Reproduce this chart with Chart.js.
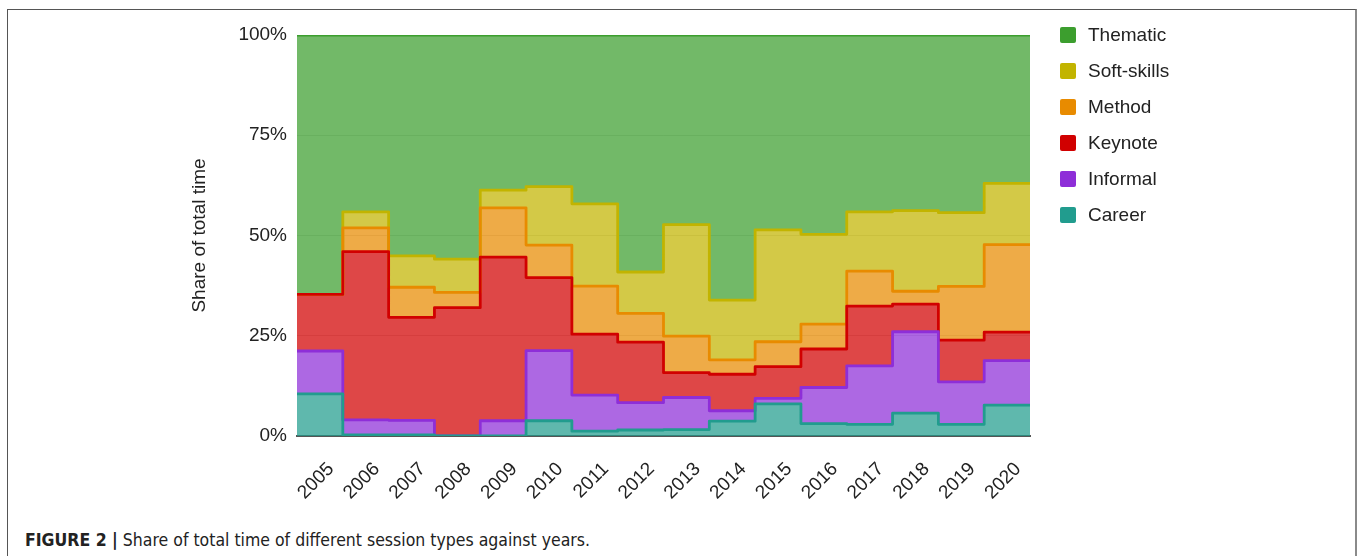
<!DOCTYPE html>
<html>
<head>
<meta charset="utf-8">
<script src="https://cdn.jsdelivr.net/npm/chart.js@4.4.1/dist/chart.umd.min.js"></script>
<style>
  body { margin: 0; background: #fff; }
  .figure {
    position: absolute; left: 7px; top: 9px; width: 1347px; height: 560px;
    border: 1px solid #555; border-bottom: none; border-right: 2px solid #8a8a8a;
  }
  #chart { position: absolute; left: 0; top: 0; }
  .caption {
    position: absolute; left: 25px; top: 530px;
    font-family: "Liberation Sans Narrow", "DejaVu Sans Condensed", sans-serif;
    font-stretch: condensed; font-size: 17.5px; color: #222;
  }
  .caption b { font-weight: bold; }
</style>
</head>
<body>
<div class="figure"></div>
<canvas id="chart" width="1358" height="500"></canvas>
<div class="caption"><b>FIGURE 2 |</b> Share of total time of different session types against years.</div>
<script>
const years = [2005, 2006, 2007, 2008, 2009, 2010, 2011, 2012, 2013, 2014, 2015, 2016, 2017, 2018, 2019, 2020];

// shares in % of total time, per year
const career = [10.5, 0.3, 0.3, 0, 0, 3.8, 1.2, 1.5, 1.6, 3.7, 8.0, 3.1, 2.9, 5.7, 2.9, 7.7];
const informal = [10.7, 3.7, 3.6, 0, 3.8, 17.5, 9.0, 6.8, 8.0, 2.6, 1.4, 9.0, 14.6, 20.3, 10.6, 11.1];
const keynote = [14.1, 42.0, 25.7, 32.0, 40.8, 18.2, 15.2, 15.1, 6.2, 9.1, 7.9, 9.6, 14.9, 6.9, 10.4, 7.1];
const method = [0, 5.9, 7.5, 3.8, 12.3, 8.1, 12.0, 7.2, 9.1, 3.6, 6.2, 6.2, 8.7, 3.2, 13.4, 21.8];
const softSkills = [0, 4.0, 7.8, 8.3, 4.4, 14.6, 20.5, 10.3, 27.8, 14.9, 27.9, 22.4, 14.8, 20.1, 18.4, 15.3];
const thematic = [64.7, 44.1, 55.1, 55.9, 38.7, 37.8, 42.1, 59.1, 47.3, 66.1, 48.6, 49.7, 44.1, 43.8, 44.3, 37.0];

const yTicks = [0, 25, 50, 75, 100];

// each year is a step spanning [year - 0.5, year + 0.5]
function toSteps(values) {
  const pts = years.map((yr, i) => ({ x: yr - 0.5, y: values[i] }));
  pts.push({ x: years[years.length - 1] + 0.5, y: values[values.length - 1] });
  return pts;
}

function series(label, values, color, rgb, idx) {
  return {
    label,
    data: toSteps(values),
    borderColor: color,
    backgroundColor: `rgba(${rgb}, 0.72)`,
    fill: idx === 0 ? 'origin' : '-1',
    stepped: true,
    borderWidth: 2.8,
    borderJoinStyle: 'round',
    pointRadius: 0,
    pointHoverRadius: 0,
  };
}

const font = '"Liberation Sans", Arial, sans-serif';
Chart.defaults.font.family = font;
Chart.defaults.color = '#222';

const sideLegend = {
  id: 'sideLegend',
  afterDraw(chart) {
    const { ctx } = chart;
    const sets = chart.data.datasets.slice().reverse();
    ctx.save();
    ctx.font = `19px ${font}`;
    ctx.textBaseline = 'middle';
    sets.forEach((ds, i) => {
      const y = 35 + i * 36;
      ctx.fillStyle = ds.borderColor;
      ctx.beginPath();
      ctx.roundRect(1060, y - 8, 16, 16, 2);
      ctx.fill();
      ctx.fillStyle = '#222';
      ctx.fillText(ds.label, 1088, y + 1);
    });
    ctx.restore();
  },
};

new Chart(document.getElementById('chart'), {
  type: 'line',
  data: {
    datasets: [
      series('Career', career, '#219c8e', '33, 156, 142', 0),
      series('Informal', informal, '#8e2ed8', '142, 46, 216', 1),
      series('Keynote', keynote, '#d10000', '209, 0, 0', 2),
      series('Method', method, '#e88b00', '232, 139, 0', 3),
      series('Soft-skills', softSkills, '#c2b400', '194, 180, 0', 4),
      series('Thematic', thematic, '#3c9e2e', '60, 158, 46', 5),
    ],
  },
  options: {
    responsive: false,
    animation: false,
    layout: { padding: { left: 184, right: 328, top: 35, bottom: 0 } },
    plugins: {
      legend: { display: false },
      tooltip: { enabled: false },
      filler: { drawTime: 'beforeDatasetsDraw' },
    },
    scales: {
      x: {
        type: 'linear',
        min: years[0] - 0.5,
        max: years[years.length - 1] + 0.5,
        afterBuildTicks: (axis) => { axis.ticks = years.map((v) => ({ value: v })); },
        afterFit: (axis) => { axis.height = 64; },
        grid: { display: false },
        border: { display: true, color: '#555', width: 2 },
        ticks: {
          autoSkip: false,
          minRotation: 45,
          maxRotation: 45,
          padding: 14,
          labelOffset: 11,
          font: { size: 19 },
          callback: (v) => String(v),
        },
      },
      y: {
        stacked: true,
        min: 0,
        max: 100,
        afterBuildTicks: (axis) => { axis.ticks = yTicks.map((v) => ({ value: v })); },
        afterFit: (axis) => { axis.width = 113; },
        grid: { color: 'rgba(0, 0, 0, 0.13)', drawTicks: false },
        border: { display: false },
        ticks: {
          padding: 10,
          font: { size: 19 },
          callback: (v) => v + '%',
        },
        title: {
          display: true,
          text: 'Share of total time',
          font: { size: 19 },
          padding: { top: 4, bottom: 4 },
        },
      },
    },
  },
  plugins: [sideLegend],
});
</script>
</body>
</html>
